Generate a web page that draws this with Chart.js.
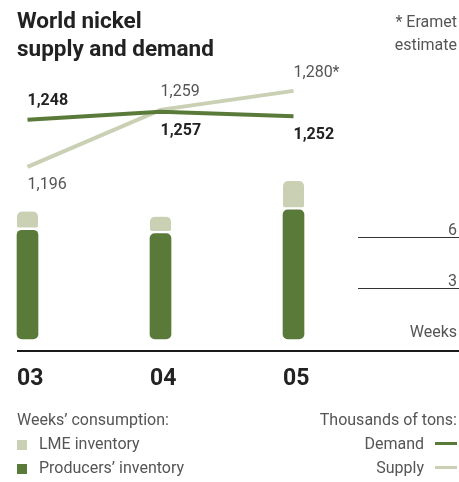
<!DOCTYPE html>
<html>
<head>
<meta charset="utf-8">
<script src="https://cdn.jsdelivr.net/npm/chart.js@4.4.1/dist/chart.umd.min.js"></script>
<style>
  html, body { margin: 0; padding: 0; background: #fff; }
  #wrap { position: relative; width: 459px; height: 482px; font-family: Roboto, "Noto Sans", sans-serif; color: #555; }
  #wrap canvas { position: absolute; left: 0; top: 0; }
  .txt { position: absolute; white-space: nowrap; font-size: 16px; font-weight: 400; line-height: 22px; }
  .title { left: 17px; top: 6px; font-size: 22.5px; font-weight: 700; line-height: 28px; color: #222; }
  .note { right: 2px; top: 10px; text-align: right; font-size: 16px; line-height: 23px; }
  .right { right: 2px; text-align: right; }
  .sq { display: inline-block; width: 10px; height: 10px; margin-right: 12px; vertical-align: -1px; }
  .ln { display: inline-block; width: 22px; height: 3px; margin-left: 11px; vertical-align: 4px; }
</style>
</head>
<body>
<div id="wrap">
  <canvas id="nickelChart" width="459" height="482"></canvas>
  <div class="txt title">World nickel<br>supply and demand</div>
  <div class="txt note">* Eramet<br>estimate</div>

  <div class="txt" style="left:17px; top:409px;">Weeks’ consumption:</div>
  <div class="txt" style="left:17px; top:433px;"><span class="sq" style="background:#c9d0b4"></span>LME inventory</div>
  <div class="txt" style="left:17px; top:457px;"><span class="sq" style="background:#5a7a3a"></span>Producers’ inventory</div>

  <div class="txt right" style="top:409px;">Thousands of tons:</div>
  <div class="txt right" style="top:433px;">Demand<span class="ln" style="background:#5a7a3a"></span></div>
  <div class="txt right" style="top:457px;">Supply<span class="ln" style="background:#c9d0b4"></span></div>
</div>

<script>
// years, last slot is the empty column holding the weeks scale
const years = ['03', '04', '05', ''];

// thousands of tons
const demand = [1248, 1257, 1252, null];
const supply = [1196, 1259, 1280, null];
const supplyNotes = ['', '', '*'];

// weeks of consumption
const producersInventory = [6.4, 6.2, 7.6, null];
const lmeInventory = [1.1, 1.0, 1.7, null];
const weekTicks = [3, 6];

const darkGreen = '#5a7a3a';
const lightGreen = '#c9d0b4';
// object form so every corner is rounded, even inside the stack
const allCorners = { topLeft: 5, topRight: 5, bottomLeft: 5, bottomRight: 5 };

const fmt = (v) => v.toLocaleString('en-US');

/* axis line, weeks scale, year labels and value labels */
const decorPlugin = {
    id: 'decor',
    afterDatasetsDraw(chart) {
        const ctx = chart.ctx;
        const xs = chart.scales.x;
        const ys = chart.scales.y;
        const yt = chart.scales.y2;
        const area = chart.chartArea;
        ctx.save();

        // baseline
        ctx.strokeStyle = '#1a1a1a';
        ctx.lineWidth = 2;
        ctx.beginPath();
        ctx.moveTo(17, area.bottom + 12);
        ctx.lineTo(chart.width, area.bottom + 12);
        ctx.stroke();

        // weeks scale on the right
        ctx.lineWidth = 1;
        ctx.strokeStyle = '#333';
        ctx.fillStyle = '#555';
        ctx.font = '16px Roboto, sans-serif';
        ctx.textAlign = 'right';
        ctx.textBaseline = 'alphabetic';
        weekTicks.forEach(function (w) {
            const py = Math.round(ys.getPixelForValue(w)) + 0.5;
            ctx.beginPath();
            ctx.moveTo(358, py);
            ctx.lineTo(chart.width, py);
            ctx.stroke();
            ctx.fillText(String(w), chart.width - 2, py - 3);
        });
        ctx.fillText('Weeks', chart.width - 2, ys.getPixelForValue(0) - 2);

        // year labels
        ctx.fillStyle = '#222';
        ctx.font = 'bold 23px Roboto, sans-serif';
        ctx.textAlign = 'left';
        ctx.textBaseline = 'middle';
        years.forEach(function (label, i) {
            if (!label) return;
            ctx.fillText(label, xs.getPixelForValue(i) - 10.5, area.bottom + 40);
        });

        // demand values (bold)
        ctx.font = 'bold 16px Roboto, sans-serif';
        const demandSide = [-1, 1, 1];
        demand.forEach(function (v, i) {
            if (v === null) return;
            const py = yt.getPixelForValue(v) + demandSide[i] * 19;
            ctx.fillText(fmt(v), xs.getPixelForValue(i), py);
        });

        // supply values
        ctx.fillStyle = '#555';
        ctx.font = '16px Roboto, sans-serif';
        const supplySide = [1, -1, -1];
        supply.forEach(function (v, i) {
            if (v === null) return;
            const py = yt.getPixelForValue(v) + supplySide[i] * 18;
            ctx.fillText(fmt(v) + supplyNotes[i], xs.getPixelForValue(i), py);
        });

        ctx.restore();
    }
};

const ctx = document.getElementById('nickelChart').getContext('2d');
new Chart(ctx, {
    type: 'bar',
    data: {
        labels: years,
        datasets: [
            {
                type: 'line',
                label: 'Demand',
                data: demand,
                yAxisID: 'y2',
                borderColor: darkGreen,
                borderWidth: 4,
                pointRadius: 0,
                tension: 0,
                clip: false,
                order: 1
            },
            {
                type: 'line',
                label: 'Supply',
                data: supply,
                yAxisID: 'y2',
                borderColor: lightGreen,
                borderWidth: 4,
                pointRadius: 0,
                tension: 0,
                clip: false,
                order: 2
            },
            {
                label: 'Producers’ inventory',
                data: producersInventory,
                yAxisID: 'y',
                backgroundColor: darkGreen,
                borderRadius: allCorners,
                borderSkipped: false,
                borderWidth: 0,
                barThickness: 21,
                clip: false,
                order: 3
            },
            {
                label: 'LME inventory',
                data: lmeInventory,
                yAxisID: 'y',
                backgroundColor: lightGreen,
                borderColor: '#fff',
                borderWidth: { top: 0, left: 0, right: 0, bottom: 3 },
                borderRadius: allCorners,
                borderSkipped: false,
                barThickness: 21,
                clip: false,
                order: 3
            }
        ]
    },
    options: {
        responsive: false,
        animation: false,
        layout: {
            padding: { left: 27.5, right: 32.5, top: 80, bottom: 143 }
        },
        scales: {
            x: { display: false, stacked: true, offset: false },
            y: { display: false, stacked: true, min: 0, max: 15.24 },
            y2: { display: false, stacked: false, min: 1006, max: 1292 }
        },
        plugins: {
            legend: { display: false },
            tooltip: { enabled: false }
        }
    },
    plugins: [decorPlugin]
});
</script>
</body>
</html>
